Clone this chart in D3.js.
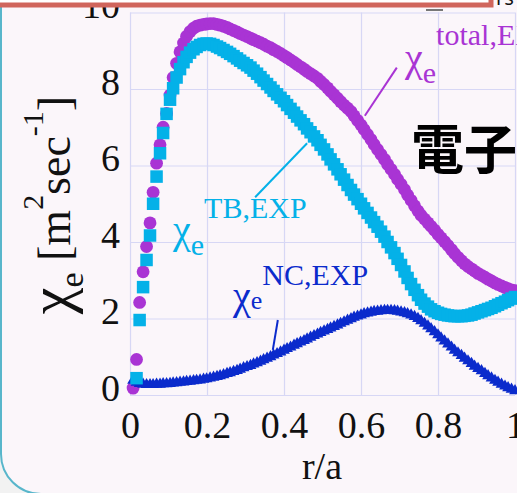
<!DOCTYPE html>
<html>
<head>
<meta charset="utf-8">
<script src="https://cdn.jsdelivr.net/npm/d3@7"></script>
<style>
  html, body { margin: 0; padding: 0; background: #f2f2f2; }
  svg { display: block; }
</style>
</head>
<body>
<svg id="chart" width="517" height="493"></svg>
<script>
// Radial grid r/a of the profile points
const rGrid = [
  0.008,0.017,0.025,0.034,0.043,0.052,0.060,0.069,0.078,0.086,
  0.095,0.104,0.112,0.121,0.130,0.139,0.147,0.156,0.165,0.173,
  0.182,0.191,0.199,0.208,0.217,0.226,0.234,0.243,0.252,0.260,
  0.269,0.278,0.286,0.295,0.304,0.313,0.321,0.330,0.339,0.347,
  0.356,0.365,0.373,0.382,0.391,0.400,0.408,0.417,0.426,0.434,
  0.443,0.452,0.460,0.469,0.478,0.487,0.495,0.504,0.513,0.521,
  0.530,0.539,0.547,0.556,0.565,0.574,0.582,0.591,0.600,0.608,
  0.617,0.626,0.634,0.643,0.652,0.661,0.669,0.678,0.687,0.695,
  0.704,0.713,0.721,0.730,0.739,0.748,0.756,0.765,0.774,0.782,
  0.791,0.800,0.808,0.817,0.826,0.835,0.843,0.852,0.861,0.869,
  0.878,0.887,0.895,0.904,0.913,0.922,0.930,0.939,0.948,0.956,
  0.965,0.974,0.982,0.991,1.000
];

// chi_e total (experimental), m^2/s
const chiTotal = [
  0.18,0.93,2.42,3.22,3.88,4.50,5.30,6.06,6.54,7.00,
  7.36,7.84,8.30,8.67,8.97,9.20,9.38,9.50,9.59,9.64,
  9.67,9.69,9.70,9.71,9.71,9.69,9.67,9.64,9.61,9.57,
  9.53,9.49,9.45,9.41,9.37,9.33,9.29,9.25,9.21,9.17,
  9.12,9.08,9.03,8.98,8.93,8.87,8.82,8.76,8.70,8.64,
  8.58,8.52,8.46,8.40,8.34,8.28,8.20,8.12,8.03,7.94,
  7.85,7.76,7.67,7.58,7.50,7.41,7.30,7.18,7.06,6.94,
  6.81,6.68,6.55,6.42,6.29,6.16,6.03,5.90,5.77,5.64,
  5.51,5.37,5.23,5.09,4.95,4.81,4.70,4.60,4.50,4.41,
  4.31,4.20,4.11,4.01,3.91,3.80,3.70,3.60,3.51,3.43,
  3.36,3.30,3.24,3.18,3.13,3.08,3.03,2.98,2.93,2.89,
  2.85,2.81,2.78,2.75,2.73
];

// chi_e turbulent part (experimental)
const chiTB = [
  null,0.44,1.96,2.82,3.53,4.17,5.00,5.71,6.32,6.85,
  7.35,7.72,8.02,8.30,8.52,8.70,8.84,8.95,9.04,9.10,
  9.15,9.18,9.19,9.18,9.15,9.11,9.07,9.02,8.97,8.92,
  8.86,8.80,8.74,8.68,8.62,8.56,8.48,8.40,8.31,8.22,
  8.13,8.04,7.95,7.86,7.77,7.68,7.58,7.48,7.38,7.28,
  7.18,7.08,6.97,6.87,6.76,6.66,6.54,6.42,6.29,6.16,
  6.03,5.90,5.77,5.63,5.49,5.36,5.24,5.12,5.00,4.88,
  4.76,4.64,4.52,4.40,4.27,4.14,4.00,3.86,3.71,3.56,
  3.40,3.23,3.06,2.90,2.75,2.61,2.49,2.39,2.31,2.24,
  2.19,2.15,2.12,2.10,2.08,2.07,2.06,2.06,2.06,2.07,
  2.08,2.10,2.13,2.16,2.19,2.22,2.25,2.28,2.32,2.36,
  2.40,2.44,2.48,2.52,2.56
];

// chi_e neoclassical part (experimental)
const chiNC = [
  0.38,0.33,0.30,0.28,0.27,0.27,0.27,0.28,0.28,0.29,
  0.29,0.30,0.31,0.32,0.33,0.34,0.35,0.36,0.37,0.38,
  0.39,0.41,0.42,0.44,0.46,0.48,0.50,0.53,0.56,0.58,
  0.61,0.64,0.67,0.71,0.74,0.77,0.81,0.84,0.88,0.92,
  0.96,1.00,1.04,1.08,1.12,1.17,1.21,1.25,1.30,1.34,
  1.38,1.42,1.46,1.51,1.55,1.59,1.63,1.67,1.71,1.75,
  1.79,1.83,1.87,1.91,1.95,1.99,2.03,2.06,2.09,2.12,
  2.14,2.16,2.18,2.19,2.20,2.21,2.21,2.21,2.20,2.19,
  2.17,2.15,2.12,2.09,2.05,2.00,1.94,1.87,1.80,1.73,
  1.65,1.57,1.49,1.41,1.33,1.25,1.17,1.10,1.03,0.96,
  0.89,0.82,0.75,0.69,0.63,0.56,0.50,0.44,0.38,0.33,
  0.28,0.23,0.19,0.15,0.11
];

const xTicks = [0, 0.2, 0.4, 0.6, 0.8, 1];
const xTickLabels = ["0", "0.2", "0.4", "0.6", "0.8", "1"];
const yTicks = [0, 2, 4, 6, 8, 10];
const yTickLabels = ["0", "2", "4", "6", "8", "10"];

const COL_TOTAL = "#a934d4";
const COL_TB = "#04b1e8";
const COL_NC = "#0b2bcc";
const SERIF = "'Liberation Serif', 'Times New Roman', serif";

const svg = d3.select("#chart");

// slide panel with rounded lower-left corner
svg.append("rect").attr("x", 0).attr("y", 0).attr("width", 517).attr("height", 493).attr("fill", "#f2f2f2");
svg.append("rect")
  .attr("x", 1).attr("y", -60).attr("width", 620).attr("height", 554)
  .attr("rx", 40).attr("ry", 40)
  .attr("fill", "#fbf6fa").attr("stroke", "#58b6cb").attr("stroke-width", 2);

const x = d3.scaleLinear().domain([0, 1]).range([130, 515]);
const y = d3.scaleLinear().domain([0, 10]).range([395, 12.5]);

const fmtX = d => xTickLabels[xTicks.indexOf(d)];
const fmtY = d => yTickLabels[yTicks.indexOf(d)];

// grid + x axis
const gx = svg.append("g").attr("transform", `translate(0,${y(0)})`)
  .call(d3.axisBottom(x).tickValues(xTicks).tickSize(-(y(0) - y(10))).tickFormat(fmtX));
gx.select(".domain").remove();
gx.selectAll(".tick line").attr("stroke", "#d7d7f5").attr("stroke-width", 1.2);
gx.selectAll(".tick text").attr("y", 43).attr("dy", null)
  .attr("font-family", SERIF).attr("font-size", 38).attr("fill", "#111");

const gy = svg.append("g").attr("transform", `translate(${x(0)},0)`)
  .call(d3.axisLeft(y).tickValues(yTicks).tickSize(-(x(1) - x(0))).tickFormat(fmtY));
gy.select(".domain").remove();
gy.selectAll(".tick line").attr("stroke", "#d7d7f5").attr("stroke-width", 1.2);
gy.selectAll(".tick text").attr("x", -10).attr("dy", "5px")
  .attr("font-family", SERIF).attr("font-size", 38).attr("fill", "#111");

// profiles
const pts = vals => rGrid.map((r, i) => ({ r, v: vals[i] })).filter(d => d.v !== null);

svg.append("g").selectAll("circle").data(pts(chiTotal)).join("circle")
  .attr("cx", d => x(d.r)).attr("cy", d => y(d.v)).attr("r", 6.4)
  .attr("fill", COL_TOTAL);

const tri = d3.symbol().type(d3.symbolTriangle).size(60);
svg.append("g").selectAll("path").data(pts(chiNC)).join("path")
  .attr("transform", d => `translate(${x(d.r)},${y(d.v)})`)
  .attr("d", tri).attr("fill", COL_NC);

const sq = 12.5;
svg.append("g").selectAll("rect").data(pts(chiTB)).join("rect")
  .attr("x", d => x(d.r) - sq / 2).attr("y", d => y(d.v) - sq / 2)
  .attr("width", sq).attr("height", sq).attr("fill", COL_TB);

// axis titles
svg.append("text").attr("x", 322).attr("y", 479).attr("text-anchor", "middle")
  .attr("font-family", SERIF).attr("font-size", 38).attr("fill", "#111").text("r/a");

const yt = svg.append("text")
  .attr("transform", "translate(70,205) rotate(-90)")
  .attr("text-anchor", "middle").attr("font-family", SERIF).attr("fill", "#111");
yt.append("tspan").attr("font-size", 60).text("χ");
yt.append("tspan").attr("font-size", 34).attr("dy", 13).text("e");
yt.append("tspan").attr("font-size", 46).attr("dy", -13).text(" [m");
yt.append("tspan").attr("font-size", 30).attr("dy", -27).text("2");
yt.append("tspan").attr("font-size", 46).attr("dy", 27).text("sec");
yt.append("tspan").attr("font-size", 30).attr("dy", -27).text("-1");
yt.append("tspan").attr("font-size", 46).attr("dy", 27).text("]");

// series labels with leader lines
function seriesLabel(px, py, color, sup, subDy, supDy, eSize) {
  const t = svg.append("text").attr("x", px).attr("y", py)
    .attr("font-family", SERIF).attr("fill", color);
  t.append("tspan").attr("font-size", 40).text("χ");
  t.append("tspan").attr("font-size", eSize).attr("dy", subDy).text("e");
  t.append("tspan").attr("font-size", 30).attr("dy", supDy).text(sup);
}
seriesLabel(405, 71, COL_TOTAL, "total,EXP", 12, -38, 30);
seriesLabel(173, 243, COL_TB, "TB,EXP", 12, -37, 30);
seriesLabel(233, 309, COL_NC, "NC,EXP", 0, -24, 26);

const leaders = [
  { x1: 0.693, y1: 8.56, x2: 0.610, y2: 7.30, c: COL_TOTAL },
  { x1: 0.325, y1: 5.17, x2: 0.460, y2: 6.58, c: COL_TB },
  { x1: 0.384, y1: 1.96, x2: 0.371, y2: 1.18, c: COL_NC }
];
svg.append("g").selectAll("line").data(leaders).join("line")
  .attr("x1", d => x(d.x1)).attr("y1", d => y(d.y1))
  .attr("x2", d => x(d.x2)).attr("y2", d => y(d.y2))
  .attr("stroke", d => d.c).attr("stroke-width", 2);

// heading text on the slide
svg.append("text").attr("x", 411).attr("y", 169)
  .attr("font-family", "'Noto Sans CJK JP', sans-serif").attr("font-weight", 700)
  .attr("font-size", 53).attr("fill", "#000").text("電子");

// title box edge at top
svg.append("rect").attr("x", -20).attr("y", -30).attr("width", 511).attr("height", 35)
  .attr("fill", "#ffffff").attr("stroke", "#d0655c").attr("stroke-width", 5);
svg.append("text").attr("x", 496).attr("y", 5).attr("font-family", "'Noto Sans', sans-serif")
  .attr("font-size", 20).attr("fill", "#111").text("rs");
svg.append("rect").attr("x", 426).attr("y", 9).attr("width", 17).attr("height", 2).attr("fill", "#777");
</script>
</body>
</html>
